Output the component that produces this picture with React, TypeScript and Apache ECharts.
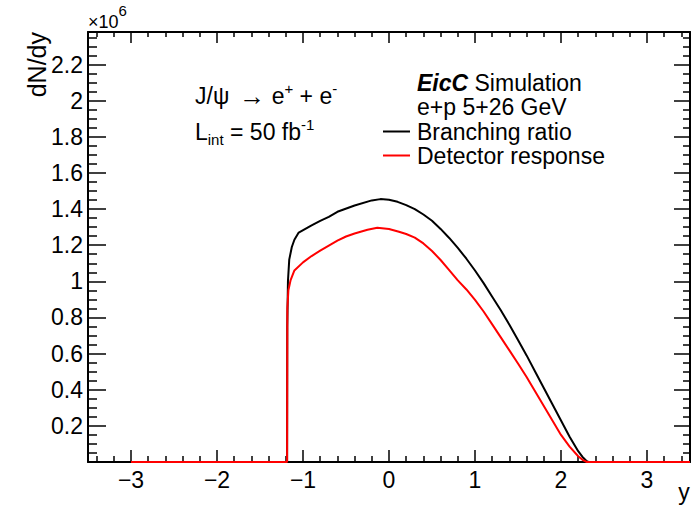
import React, { useEffect, useRef } from 'react';
import * as echarts from 'echarts';

const FONT = '"Liberation Sans", Arial, Helvetica, sans-serif';

// axis ranges (dN/dy in units of 10^6)
const xRange = [-3.5, 3.5];
const yRange = [0, 2.38];

// Branching ratio (black)
const branchingY = [
  -3.0, -1.185, -1.183, -1.175, -1.16, -1.13, -1.1, -1.05, -0.9, -0.8, -0.7, -0.6, -0.4, -0.2, -0.1,
  0.0, 0.1, 0.2, 0.3, 0.4, 0.5, 0.6, 0.7, 0.8, 0.9, 1.0, 1.1, 1.2, 1.3, 1.4, 1.5, 1.6, 1.7, 1.8,
  1.9, 2.0, 2.1, 2.2, 2.25, 2.3, 2.32, 3.5,
];
const branchingN = [
  0, 0, 0.75, 1.0, 1.12, 1.19, 1.23, 1.27, 1.31, 1.335, 1.357, 1.385, 1.42, 1.448, 1.455,
  1.452, 1.44, 1.422, 1.4, 1.37, 1.335, 1.29, 1.24, 1.185, 1.125, 1.06, 0.99, 0.915, 0.84, 0.76, 0.675, 0.59, 0.5, 0.41,
  0.32, 0.23, 0.14, 0.06, 0.028, 0.004, 0, 0,
];

// Detector response (red)
const detectorY = [
  -3.0, -1.185, -1.182, -1.17, -1.144, -1.1, -1.0, -0.9, -0.8, -0.7, -0.6, -0.5, -0.4, -0.25, -0.136,
  0.0, 0.116, 0.2, 0.3, 0.4, 0.5, 0.6, 0.7, 0.8, 0.9, 1.0, 1.1, 1.2, 1.3, 1.4, 1.5, 1.6, 1.7, 1.8,
  1.9, 2.0, 2.1, 2.2, 2.25, 2.3, 3.5,
];
const detectorN = [
  0, 0, 0.85, 0.95, 1.007, 1.06, 1.105, 1.14, 1.17, 1.198, 1.225, 1.248, 1.265, 1.285, 1.296,
  1.29, 1.274, 1.262, 1.242, 1.21, 1.168, 1.118, 1.062, 1.005, 0.955, 0.897, 0.833, 0.762, 0.69, 0.618, 0.545, 0.47, 0.39, 0.31,
  0.23, 0.15, 0.085, 0.032, 0.012, 0, 0,
];

const seriesNames = ['Branching ratio', 'Detector response'];
const seriesColors = ['#000000', '#ff0000'];

const fmtX = (v: number) => {
  if (Math.abs(v - Math.round(v)) > 1e-6) return '';
  return String(Math.round(v)).replace('-', '\u2212');
};
const fmtY = (v: number) => {
  const k = Math.round(v * 5);
  if (Math.abs(v * 5 - k) > 1e-6 || k === 0) return '';
  return String(Math.round(k * 2) / 10);
};

const tickLine = { color: '#000', width: 1.5 };
const axisLine = { show: true, onZero: false, lineStyle: { color: '#000', width: 2 } };

export default function App() {
  const ref = useRef<HTMLDivElement>(null);
  useEffect(() => {
    if (!ref.current) return;
    const chart = echarts.init(ref.current, undefined, { renderer: 'svg' });
    const pairs = (xs: number[], ys: number[]) => xs.map((x, i) => [x, ys[i]]);
    const baseX = {
      type: 'value' as const,
      min: xRange[0],
      max: xRange[1],
      splitNumber: 7,
      axisLine,
      splitLine: { show: false },
      minorSplitLine: { show: false },
    };
    const baseY = {
      type: 'value' as const,
      min: yRange[0],
      max: yRange[1],
      splitNumber: 12,
      axisLine,
      splitLine: { show: false },
      minorSplitLine: { show: false },
    };
    chart.setOption({
      animation: false,
      backgroundColor: '#ffffff',
      grid: { left: 88, right: 5, top: 32, bottom: 43, containLabel: false },
      xAxis: [
        {
          ...baseX,
          position: 'bottom',
          axisTick: { show: true, inside: true, length: 12, lineStyle: tickLine },
          minorTick: { show: true, splitNumber: 5, length: 6, lineStyle: tickLine },
          axisLabel: { show: true, fontSize: 23, fontFamily: FONT, color: '#000', margin: 6, formatter: fmtX },
        },
        {
          ...baseX,
          position: 'top',
          axisTick: { show: true, inside: true, length: 11, lineStyle: tickLine },
          minorTick: { show: true, splitNumber: 5, length: 5, lineStyle: tickLine },
          axisLabel: { show: false },
        },
      ],
      yAxis: [
        {
          ...baseY,
          position: 'left',
          axisTick: { show: true, inside: true, length: 18, lineStyle: tickLine },
          minorTick: { show: true, splitNumber: 4, length: 9, lineStyle: tickLine },
          axisLabel: { show: true, fontSize: 23, fontFamily: FONT, color: '#000', margin: 5, formatter: fmtY },
        },
        {
          ...baseY,
          position: 'right',
          axisTick: { show: true, inside: true, length: 16, lineStyle: tickLine },
          minorTick: { show: true, splitNumber: 4, length: 7, lineStyle: tickLine },
          axisLabel: { show: false },
        },
      ],
      legend: {
        orient: 'vertical',
        left: 383,
        top: 120,
        padding: 0,
        itemWidth: 27,
        itemHeight: 2,
        itemGap: 1,
        icon: 'rect',
        selectedMode: false,
        data: seriesNames,
        textStyle: { fontSize: 23, fontFamily: FONT, color: '#000', lineHeight: 22, padding: [0, 0, 0, 2] },
      },
      series: [
        {
          name: seriesNames[0],
          type: 'line',
          data: pairs(branchingY, branchingN),
          showSymbol: false,
          clip: false,
          color: seriesColors[0],
          lineStyle: { color: seriesColors[0], width: 2 },
          z: 3,
        },
        {
          name: seriesNames[1],
          type: 'line',
          data: pairs(detectorY, detectorN),
          showSymbol: false,
          clip: false,
          color: seriesColors[1],
          lineStyle: { color: seriesColors[1], width: 2 },
          z: 4,
        },
      ],
      graphic: [
        {
          type: 'text',
          x: 37,
          y: 32,
          rotation: Math.PI / 2,
          style: { text: 'dN/dy', font: `25px ${FONT}`, fill: '#000', align: 'right', verticalAlign: 'middle' },
        },
        {
          type: 'text',
          x: 88,
          y: 22,
          style: {
            text: '{n|\u00d710}{s|6}',
            fill: '#000',
            align: 'left',
            verticalAlign: 'middle',
            rich: {
              n: { fontSize: 18, fontFamily: FONT, lineHeight: 38, verticalAlign: 'middle' },
              s: { fontSize: 15, fontFamily: FONT, lineHeight: 15, verticalAlign: 'top' },
            },
          },
        },
        {
          type: 'text',
          x: 684,
          y: 492,
          style: { text: 'y', font: `23px ${FONT}`, fill: '#000', align: 'center', verticalAlign: 'middle' },
        },
        {
          type: 'text',
          x: 195,
          y: 96,
          style: {
            text: '{n|J/\u03c8}{a|\u2192}{n| e}{s|+}{n| + e}{s|-}',
            fill: '#000',
            align: 'left',
            verticalAlign: 'middle',
            rich: {
              n: { fontSize: 23, fontFamily: FONT, lineHeight: 30, verticalAlign: 'middle' },
              a: { fontSize: 26, fontFamily: FONT, lineHeight: 30, verticalAlign: 'middle', padding: [0, 0, 0, 10] },
              s: { fontSize: 15, fontFamily: FONT, lineHeight: 15, verticalAlign: 'top' },
            },
          },
        },
        {
          type: 'text',
          x: 195,
          y: 132,
          style: {
            text: '{n|L}{b|int}{n| = 50 fb}{s|-1}',
            fill: '#000',
            align: 'left',
            verticalAlign: 'middle',
            rich: {
              n: { fontSize: 23, fontFamily: FONT, lineHeight: 30, verticalAlign: 'middle' },
              s: { fontSize: 15, fontFamily: FONT, lineHeight: 15, verticalAlign: 'top' },
              b: { fontSize: 15, fontFamily: FONT, lineHeight: 15, verticalAlign: 'bottom' },
            },
          },
        },
        {
          type: 'text',
          x: 417,
          y: 83,
          style: {
            text: '{b|EicC}{n| Simulation}',
            fill: '#000',
            align: 'left',
            verticalAlign: 'middle',
            rich: {
              b: { fontSize: 23, fontFamily: FONT, fontWeight: 'bold', fontStyle: 'italic', lineHeight: 22 },
              n: { fontSize: 23, fontFamily: FONT, lineHeight: 22 },
            },
          },
        },
        {
          type: 'text',
          x: 417,
          y: 107,
          style: { text: 'e+p 5+26 GeV', font: `23px ${FONT}`, lineHeight: 22, fill: '#000', align: 'left', verticalAlign: 'middle' },
        },
      ],
    });
    return () => chart.dispose();
  }, []);
  return (
    <div
      ref={ref}
      style={{ position: 'fixed', left: 0, top: 0, width: 695, height: 505, background: '#fff' }}
    />
  );
}
